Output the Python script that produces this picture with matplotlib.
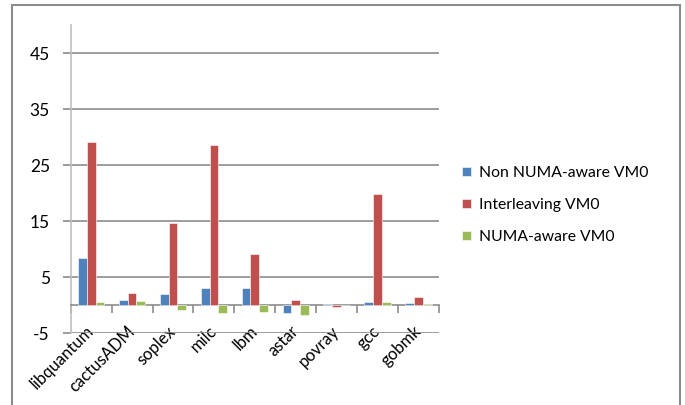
import matplotlib
matplotlib.use('Agg')
import matplotlib.pyplot as plt
import numpy as np
from matplotlib.patches import Rectangle

# benchmarks and values
benchmarks = ['libquantum', 'cactusADM', 'soplex', 'milc', 'lbm',
              'astar', 'povray', 'gcc', 'gobmk']
non_numa = [8.45, 0.9, 1.96, 3.1, 3.1, -1.4, 0.24, 0.54, 0.36]
interleave = [29.05, 2.08, 14.6, 28.6, 9.1, 0.9, -0.3, 19.8, 1.43]
numa_aware = [0.54, 0.71, -0.9, -1.4, -1.2, -1.8, 0.05, 0.54, 0.24]
series_names = ['Non NUMA-aware VM0', 'Interleaving VM0', 'NUMA-aware VM0']
colors = ['#4F81BD', '#C0504D', '#9BBB59']
yticks = [-5, 5, 15, 25, 35, 45]

plt.rcParams['font.family'] = ['Lato', 'DejaVu Sans']

fig = plt.figure(figsize=(6.85, 4.05), dpi=100)
ax = fig.add_axes([70.7 / 685, 1 - 333 / 405, (439 - 70.7) / 685, (333 - 25) / 405])

x = np.arange(len(benchmarks))
w = 0.215
for i, (vals, name, c) in enumerate(zip([non_numa, interleave, numa_aware], series_names, colors)):
    ax.bar(x + (i - 1) * w, vals, width=w, color=c, label=name, zorder=3,
           edgecolor='white', linewidth=0.4)

ax.set_xlim(-0.5, len(benchmarks) - 0.5)
ax.set_ylim(-5, 50)
ax.set_yticks(yticks)
ax.set_yticklabels([str(t) for t in yticks], fontsize=12.5)
ax.grid(axis='y', color='#8C8C8C', linewidth=1.2, zorder=0)

for s in ['top', 'right']:
    ax.spines[s].set_visible(False)
ax.spines['left'].set_color('#BFBFBF')
ax.spines['left'].set_linewidth(1.2)
ax.spines['bottom'].set_position(('data', 0))
ax.spines['bottom'].set_color('#8C8C8C')
ax.spines['bottom'].set_linewidth(1.2)

ax.tick_params(axis='y', length=6, width=1.2, color='#8C8C8C', pad=9)
ax.set_xticks(x)
ax.set_xticklabels(benchmarks, rotation=45, ha='right', va='center',
                   rotation_mode='anchor', fontsize=12)
ax.set_xticks(np.arange(len(benchmarks) + 1) - 0.5, minor=True)
ax.tick_params(axis='x', which='major', length=0, pad=17)
ax.tick_params(axis='x', which='minor', length=6, width=1.2, color='#8C8C8C')

fig.legend(loc='center left', bbox_to_anchor=(0.654, 0.494), frameon=False,
           fontsize=11.3, handlelength=0.55, handleheight=0.55, handletextpad=0.5,
           labelspacing=1.15)

fig.patches.append(Rectangle((12 / 685, -0.01), (680 - 12) / 685, 1 - 4.5 / 405 + 0.01,
                             transform=fig.transFigure, fill=False,
                             edgecolor='#8C8C8C', linewidth=1.5))

fig.savefig('out.png', dpi=100)
